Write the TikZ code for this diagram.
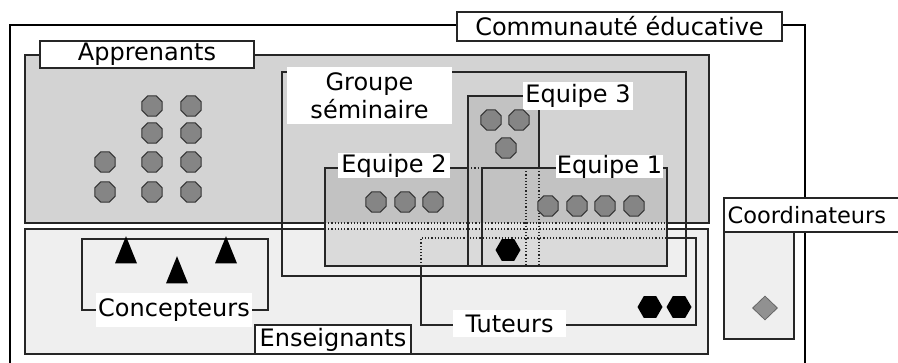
\documentclass[tikz,border=0pt]{standalone}
\usepackage{fontspec}
\setmainfont{DejaVu Sans}
\usepackage{xcolor}
\usetikzlibrary{shapes.geometric}
\definecolor{appgray}{HTML}{D3D3D3}
\definecolor{enslight}{HTML}{EFEFEF}
\definecolor{teamdark}{HTML}{C2C2C2}
\definecolor{teammid}{HTML}{E4E4E4}
\definecolor{teamlight}{HTML}{DADADA}
\definecolor{tokgray}{HTML}{858585}
\tikzset{box/.style={draw=black!85,line width=1.2pt},
  dotline/.style={draw=black!85,line width=1.2pt,dotted},
  lab/.style={draw=black!85,line width=1.2pt,fill=white,inner sep=0pt,font=\fontsize{24}{28}\selectfont},
  tag/.style={fill=white,inner sep=0pt,font=\fontsize{24}{28}\selectfont},
  learner/.style={regular polygon,regular polygon sides=8,minimum size=22pt,inner sep=0pt,fill=tokgray,draw=black!80,line width=1pt},
  tutor/.style={regular polygon,regular polygon sides=6,minimum size=25pt,inner sep=0pt,fill=black},
  designer/.style={isosceles triangle,isosceles triangle apex angle=44,shape border rotate=90,minimum width=22pt,inner sep=0pt,fill=black},
  coordin/.style={diamond,minimum width=25pt,minimum height=24pt,inner sep=0pt,fill=tokgray!90,draw=black!60,line width=0.8pt}}

\begin{document}
\begin{tikzpicture}[x=1pt,y=-1pt]
        \useasboundingbox (0,0) rectangle (898,363);
        \fill[white] (0,0) rectangle (898,363);

        \draw[draw=black,line width=2.8pt] (10,25) rectangle (805,372);
        \draw[box,fill=appgray] (25,55) rectangle (709,223);
        \draw[box,fill=enslight] (25,229) rectangle (708,354);
        \draw[box,fill=enslight] (724,198) rectangle (794,339);
        \draw[box] (282,72) rectangle (686,276);
        \draw[box] (82,239) rectangle (268,310);

        \begin{scope}
        \clip (468,96) rectangle (539,266) (325,168) rectangle (667,266);
        \fill[teamdark] (300,90) rectangle (700,223);
        \fill[teammid] (300,223) rectangle (700,229);
        \fill[teamlight] (300,229) rectangle (700,270);
        \end{scope}

        \draw[box] (468,168) -- (325,168) -- (325,266) -- (667,266) -- (667,168) -- (482,168) -- (482,266);
        \draw[box] (468,266) -- (468,96) -- (539,96) -- (539,168);
        \draw[dotline] (468,168) -- (482,168);
        \draw[dotline] (539,168) -- (539,266);
        \draw[dotline] (526,168) -- (526,266);
        \draw[dotline] (325,223) -- (667,223);
        \draw[dotline] (325,229) -- (667,229);
        \draw[dotline] (421,266) -- (421,238) -- (667,238);
        \draw[box] (667,238) -- (696,238) -- (696,325) -- (421,325) -- (421,266);

        \node[lab,minimum width=325pt,minimum height=29pt] (comm) at (619.5,26.5) {Communauté éducative};
        \node[lab,minimum width=214pt,minimum height=27pt] (appr) at (147,54.5) {Apprenants};
        \node[lab,minimum width=156pt,minimum height=29pt] (ens) at (333,339.5) {Enseignants};
        \node[lab,anchor=west,minimum width=190pt,minimum height=34pt,text width=184pt,align=left,font=\fontsize{22.5}{28}\selectfont] (coord) at (724,215) {Coordinateurs};
        \node[tag,minimum width=165pt,minimum height=57pt,align=center] (grp) at (369.5,95.5) {Groupe\\séminaire};
        \node[tag,minimum width=112pt,minimum height=25pt] (eq2) at (394,165.5) {Equipe 2};
        \node[tag,minimum width=110pt,minimum height=28pt] (eq3) at (578,96) {Equipe 3};
        \node[tag,minimum width=107pt,minimum height=23pt] (eq1) at (609.5,166.5) {Equipe 1};
        \node[tag,minimum width=156pt,minimum height=34pt] (conc) at (174,310) {Concepteurs};
        \node[tag,minimum width=113pt,minimum height=27pt] (tut) at (509.5,323.5) {Tuteurs};

        \node[learner] (a1) at (105,162) {};
        \node[learner] (a2) at (105,192) {};
        \node[learner] (a3) at (152,106) {};
        \node[learner] (a4) at (152,133) {};
        \node[learner] (a5) at (152,162) {};
        \node[learner] (a6) at (152,192) {};
        \node[learner] (a7) at (191,106) {};
        \node[learner] (a8) at (191,133) {};
        \node[learner] (a9) at (191,162) {};
        \node[learner] (a10) at (191,192) {};
        \node[learner] (b1) at (491,120) {};
        \node[learner] (b2) at (519,120) {};
        \node[learner] (b3) at (506,148) {};
        \node[learner] (c1) at (376,202) {};
        \node[learner] (c2) at (405,202) {};
        \node[learner] (c3) at (433,202) {};
        \node[learner] (d1) at (548,206) {};
        \node[learner] (d2) at (577,206) {};
        \node[learner] (d3) at (605,206) {};
        \node[learner] (d4) at (634,206) {};

        \node[tutor] (t1) at (508,250) {};
        \node[tutor] (t2) at (650,307) {};
        \node[tutor] (t3) at (679,307) {};

        \node[designer] (p1) at (126,256) {};
        \node[designer] (p2) at (177,276) {};
        \node[designer] (p3) at (226,256) {};

        \node[coordin] (k1) at (765,308) {};
\end{tikzpicture}
\end{document}
